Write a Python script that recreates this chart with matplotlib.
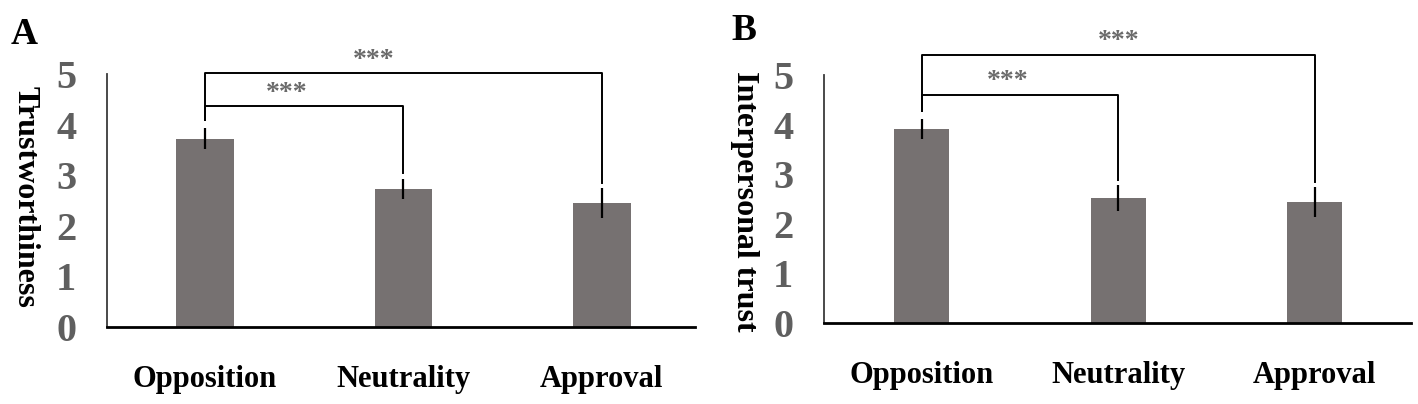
import numpy as np
import matplotlib.pyplot as plt

plt.rcParams['font.family'] = ['Liberation Serif', 'DejaVu Serif']
plt.rcParams['font.weight'] = 'bold'

categories = ['Opposition', 'Neutrality', 'Approval']
yticks = [0, 1, 2, 3, 4, 5]

# panel A: trustworthiness
trust_means = [3.72, 2.73, 2.45]
trust_err = [0.21, 0.20, 0.29]
# panel B: interpersonal trust
inter_means = [3.91, 2.52, 2.44]
inter_err = [0.20, 0.26, 0.31]

bar_colour = '#767171'
tick_colour = '#5f5f5f'

fig = plt.figure(figsize=(14.18, 4.04), dpi=100)


def panel(rect, means, errs, ylabel, letter, letter_xy, ylabel_x, xlim, width,
          brackets, stars):
    ax = fig.add_axes(rect)
    x = np.arange(len(categories))
    ax.bar(x, means, width=width, color=bar_colour, zorder=2)
    ax.errorbar(x, means, yerr=errs, fmt='none', ecolor='black', elinewidth=1.6,
                capsize=0, zorder=3)
    ax.set_xlim(*xlim)
    ax.set_ylim(0, 5)
    ax.set_yticks(yticks)
    ax.set_xticks(x)
    ax.set_xticklabels(categories, fontsize=22, fontweight='bold')
    ax.set_yticklabels([str(t) for t in yticks], fontsize=29, fontweight='bold',
                       color=tick_colour)
    ax.tick_params(axis='both', length=0)
    ax.tick_params(axis='x', pad=27)
    ax.tick_params(axis='y', pad=22)
    for s in ['top', 'right']:
        ax.spines[s].set_visible(False)
    ax.spines['left'].set_color('#3a3a3a')
    ax.spines['left'].set_linewidth(1.3)
    ax.spines['bottom'].set_color('black')
    ax.spines['bottom'].set_linewidth(2)

    # significance brackets: (left x, right x, height, left drop, right drop)
    for (x0, x1, h, y0, y1) in brackets:
        ax.plot([x0, x0, x1, x1], [y0, h, h, y1], color='black', lw=1.4,
                clip_on=False, zorder=4)
    for (sx, sy) in stars:
        ax.text(sx, sy, '***', ha='center', va='center', fontsize=20,
                color='#6a6a6a', fontweight='bold', clip_on=False)

    fig.text(ylabel_x[0], ylabel_x[1], ylabel, rotation=-90, ha='center',
             va='center', fontsize=23, fontweight='bold')
    fig.text(letter_xy[0], letter_xy[1], letter, ha='center', va='center',
             fontsize=27, fontweight='bold')
    return ax


panel([107 / 1418, 1 - 327 / 404, 588 / 1418, 5 * 50.6 / 404],
      trust_means, trust_err, 'Trustworthiness', 'A',
      (24 / 1418, 1 - 34 / 404), (25 / 1418, 1 - 197 / 404),
      (-0.494, 2.47), 0.29,
      [(0, 1, 4.37, 4.09, 3.04), (0, 2, 5.02, 4.09, 2.85)],
      [(0.41, 4.62), (0.85, 5.26)])

panel([824 / 1418, 1 - 323 / 404, 587 / 1418, 5 * 49.6 / 404],
      inter_means, inter_err, 'Interpersonal trust', 'B',
      (744 / 1418, 1 - 31 / 404), (745 / 1418, 1 - 201 / 404),
      (-0.497, 2.49), 0.28,
      [(0, 1, 4.60, 4.27, 2.88), (0, 2, 5.40, 4.27, 2.84)],
      [(0.44, 4.86), (1.0, 5.67)])

fig.savefig('out.png', dpi=100)
